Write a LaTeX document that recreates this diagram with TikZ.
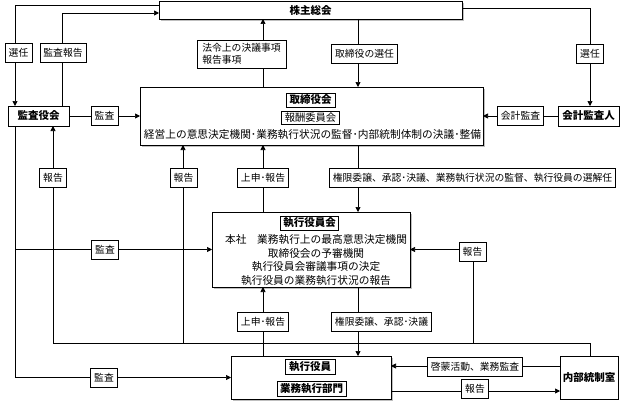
\documentclass[tikz,border=0pt]{standalone}
\usepackage{fontspec}
\setmainfont{Noto Sans CJK JP}
\usetikzlibrary{arrows.meta,shadows}
\begin{document}
\begin{tikzpicture}[x=1pt,y=-1pt,
  line width=0.7pt,
  every node/.style={outer sep=0pt},
  arr/.style={-{Triangle[length=5pt,width=5pt]}},
  shad/.style={drop shadow={shadow xshift=2pt,shadow yshift=-2pt,opacity=0.5,fill=gray}},
  bigbox/.style={draw=black, fill=white, line width=0.8pt, inner sep=0pt, shad},
  orgbox/.style={draw=black, fill=white, line width=0.8pt, inner sep=0pt, font=\bfseries\fontsize{10.5}{12}\selectfont},
  lab/.style={draw=black, fill=white, line width=0.6pt, inner xsep=3.5pt, inner ysep=0pt, minimum height=19pt, font=\fontsize{9.8}{12}\selectfont},
  ttl/.style={draw=black, fill=white, line width=0.9pt, inner xsep=3pt, inner ysep=0pt, minimum height=14pt, font=\bfseries\fontsize{10.5}{12}\selectfont},
  ttlr/.style={draw=black, fill=white, line width=0.9pt, inner xsep=3pt, inner ysep=0pt, minimum height=14pt, font=\fontsize{10.3}{12}\selectfont},
  body/.style={inner sep=0pt, font=\fontsize{10.7}{13.5}\selectfont},
]
\useasboundingbox (0,0) rectangle (621,404);

% x / y guide coordinates
\coordinate (xA) at (15,0);
\coordinate (xB) at (53,0);
\coordinate (xC) at (62,0);
\coordinate (xD) at (183,0);
\coordinate (xE) at (263,0);
\coordinate (xF) at (358,0);
\coordinate (xG) at (473,0);
\coordinate (xH) at (590,0);
\coordinate (yA) at (0,5);
\coordinate (yB) at (0,13);
\coordinate (yC) at (0,8);
\coordinate (yL) at (0,343);
\coordinate (yM) at (0,366);
\coordinate (yN) at (0,391);

% main boxes
\node[bigbox, minimum width=303pt, minimum height=18pt, font=\bfseries\fontsize{10.5}{12}\selectfont] (sh) at (310.5,10) {株主総会};
\node[bigbox, minimum width=343pt, minimum height=58pt] (tori) at (311.5,116) {};
\node[bigbox, minimum width=198pt, minimum height=75pt] (shikkoukai) at (311,249.5) {};
\node[bigbox, minimum width=160pt, minimum height=43pt] (shikkou) at (311,377.5) {};
\node[orgbox, minimum width=61pt, minimum height=20pt] (kansa) at (38.5,116) {監査役会};
\node[orgbox, minimum width=61pt, minimum height=20pt] (kaikei) at (588.5,116) {会計監査人};
\node[orgbox, minimum width=58pt, minimum height=43pt] (naibu) at (589,377.5) {内部統制室};

% inner titles and texts
\node[ttl, minimum width=49pt] (t1) at (310.5,100) {取締役会};
\node[ttlr, minimum width=57pt, minimum height=13pt] (t2) at (310.5,117.5) {報酬委員会};
\node[body] (tx1) at (312.5,135) {経営上の意思決定機関･業務執行状況の監督･内部統制体制の決議･整備};
\node[ttl, minimum width=57pt] (t3) at (309.5,223) {執行役員会};
\node[body, align=center] (tx2) at (316,260) {本社　業務執行上の最高意思決定機関\\取締役会の予審機関\\執行役員会審議事項の決定\\執行役員の業務執行状況の報告};
\node[ttl, minimum width=50pt, minimum height=15pt] (t4) at (310,366.5) {執行役員};
\node[ttl, minimum width=69pt, minimum height=15pt] (t5) at (311.5,388.5) {業務執行部門};

% connectors
\draw[arr] (sh.west |- yA) -| (kansa.north -| xA);
\draw[arr] (kansa.north -| xC) |- (sh.west |- yB);
\draw[arr] (tori.north -| xE) -- (sh.south -| xE);
\draw[arr] (sh.south -| xF) -- (tori.north -| xF);
\draw[arr] (sh.east |- yC) -| (kaikei.north -| xH);
\draw[arr] (kansa.east) -- (tori.west |- kansa.east);
\draw[arr] (kaikei.west) -- (tori.east |- kaikei.west);
\draw[arr] (tori.south -| xF) -- (shikkoukai.north -| xF);
\draw[arr] (shikkoukai.north -| xE) -- (tori.south -| xE);
\draw[arr] (naibu.north -| xH) |- (xB |- yL) -- (kansa.south -| xB);
\draw[arr] (xD |- yL) -- (tori.south -| xD);
\draw[arr] (xG |- yL) |- (shikkoukai.east);
\draw[arr] (kansa.south -| xA) |- (shikkou.west);
\draw[arr] (xA |- shikkoukai.west) -- (shikkoukai.west);
\draw[arr] (shikkou.north -| xE) -- (shikkoukai.south -| xE);
\draw[arr] (shikkoukai.south -| xF) -- (shikkou.north -| xF);
\draw[arr] (naibu.west |- yM) -- (shikkou.east |- yM);
\draw[arr] (shikkou.east |- yN) -- (naibu.west |- yN);

% labels
\node[lab] (l1) at (18.5,52.5) {選任};
\node[lab] (l2) at (63,52.5) {監査報告};
\node[lab, align=left, minimum height=28pt, minimum width=89pt] (l3) at (241.5,54) {法令上の決議事項\\報告事項};
\node[lab] (l4) at (364.5,54) {取締役の選任};
\node[lab] (l5) at (590,54) {選任};
\node[lab] (l6) at (104.5,116) {監査};
\node[lab] (l7) at (520.5,116) {会計監査};
\node[lab] (l8) at (53,178) {報告};
\node[lab] (l9) at (183.5,178) {報告};
\node[lab] (l10) at (263,178) {上申･報告};
\node[lab] (l11) at (472.5,177.5) {権限委譲、承認･決議、業務執行状況の監督、執行役員の選解任};
\node[lab] (l12) at (105,250) {監査};
\node[lab] (l13) at (472.5,251.5) {報告};
\node[lab] (l14) at (263,321.5) {上申･報告};
\node[lab] (l15) at (381.5,322) {権限委譲、承認･決議};
\node[lab] (l16) at (104,378) {監査};
\node[lab] (l17) at (475,366.5) {啓蒙活動、業務監査};
\node[lab] (l18) at (475,389) {報告};
\end{tikzpicture}
\end{document}
